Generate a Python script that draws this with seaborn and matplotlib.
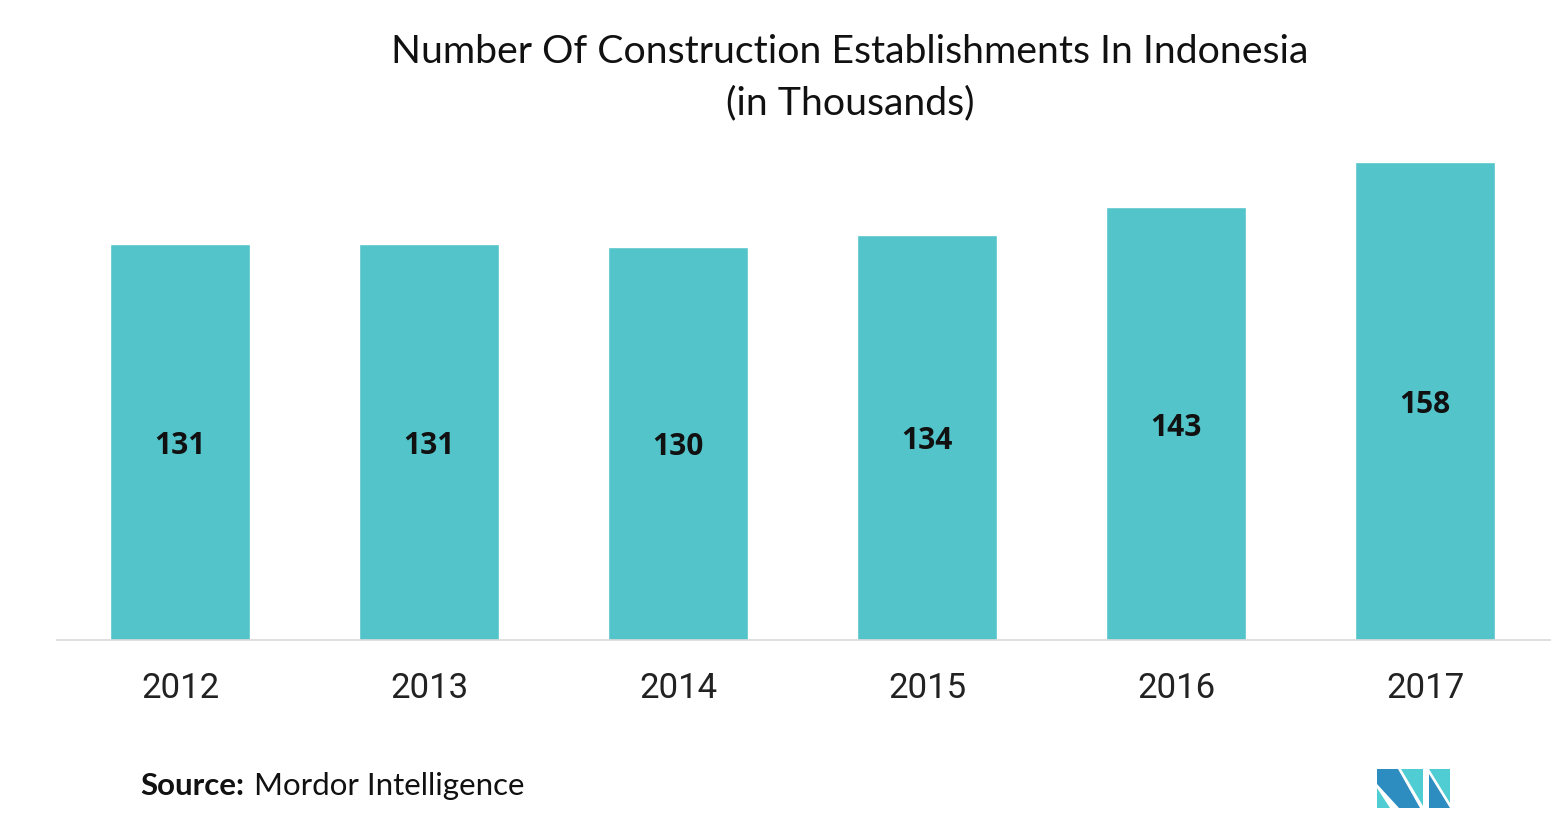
import matplotlib
matplotlib.use("Agg")
import matplotlib.pyplot as plt
from matplotlib.patches import Polygon
import seaborn as sns
import pandas as pd

years = ["2012", "2013", "2014", "2015", "2016", "2017"]
establishments = [131, 131, 130, 134, 143, 158]

TITLE_1 = "Number Of Construction Establishments In Indonesia"
TITLE_2 = "(in Thousands)"
BAR_COLOR = "#52C4CA"

sns.set_theme(style="white")
plt.rcParams["font.family"] = ["Lato", "DejaVu Sans"]

df = pd.DataFrame({"year": years, "value": establishments})

W, H = 1552, 825
fig = plt.figure(figsize=(W / 100, H / 100), dpi=100)
ax = fig.add_axes([57 / W, (H - 640) / H, 1493 / W, 490 / H])

sns.barplot(data=df, x="year", y="value", color=BAR_COLOR, width=0.565,
            saturation=1, ax=ax)

ax.set_xlim(-0.494, 5.502)
ax.set_ylim(0, 162)
ax.set_xlabel("")
ax.set_ylabel("")
ax.set_yticks([])
for side in ["left", "right", "top"]:
    ax.spines[side].set_visible(False)
ax.spines["bottom"].set_color("#D9D9D9")
ax.spines["bottom"].set_linewidth(1.2)
ax.tick_params(axis="x", length=0, pad=23)
for lbl in ax.get_xticklabels():
    lbl.set_fontfamily("Roboto")
    lbl.set_fontsize(25)
    lbl.set_color("#222222")

for i, v in enumerate(establishments):
    ax.text(i, v / 2 - 1.3, str(v), ha="center", va="center", fontsize=21.5,
            fontweight="bold", color="#111111", family=["Open Sans", "DejaVu Sans"])

fig.text(850 / W, 1 - 52 / H, TITLE_1, ha="center", va="center", fontsize=28.3,
         color="#111111")
fig.text(850 / W, 1 - 103 / H, TITLE_2, ha="center", va="center", fontsize=28.3,
         color="#111111")

src = fig.text(140 / W, 1 - 786 / H, "Source:", ha="left", va="center",
               fontsize=22.5, fontweight="bold", color="#111111")
fig.canvas.draw()
bb = src.get_window_extent()
fig.text((bb.x1 + 10) / W, 1 - 786 / H, "Mordor Intelligence", ha="left",
         va="center", fontsize=22.5, color="#111111")

# logo
def px(points):
    return [(x / W, 1 - y / H) for x, y in points]

dark = "#2E8DC0"
light = "#4FCDD2"
logo = [
    ([(1377, 769), (1398, 769), (1420, 808), (1399, 808), (1377, 784)], dark),
    ([(1377, 788), (1390, 808), (1377, 808)], light),
    ([(1401, 769), (1423, 769), (1423, 806)], light),
    ([(1429, 769), (1450, 769), (1450, 803)], light),
    ([(1429, 774), (1450, 808), (1429, 808)], dark),
]
for pts, c in logo:
    fig.patches.append(Polygon(px(pts), closed=True, facecolor=c,
                               edgecolor="none", transform=fig.transFigure))

fig.savefig("out.png", dpi=100)
